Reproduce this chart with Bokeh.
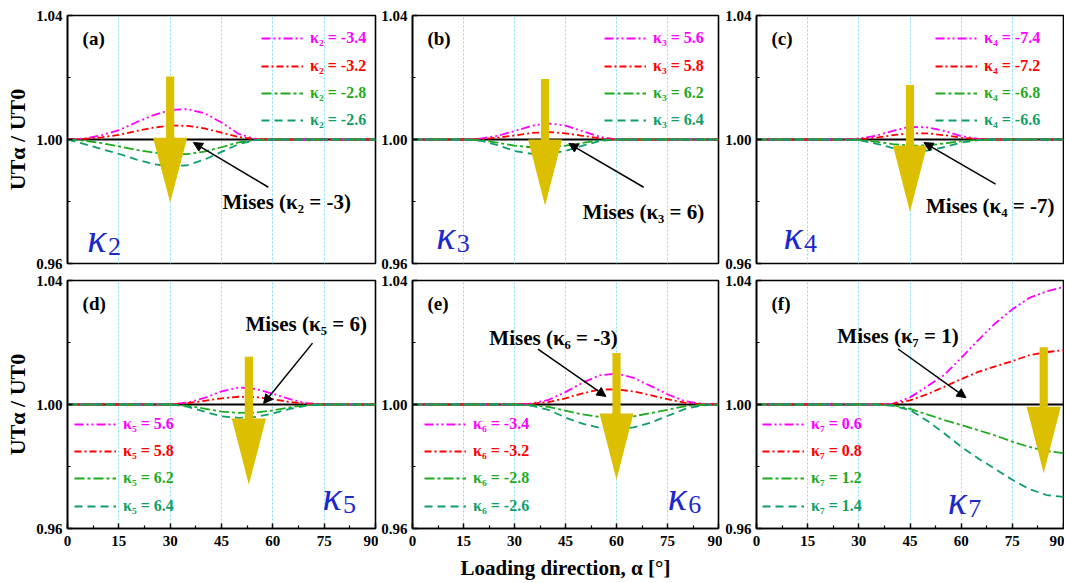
from bokeh.plotting import figure
from bokeh.layouts import column, row
from bokeh.models import (Range1d, FixedTicker, NumeralTickFormatter, Legend, LegendItem,
                          Label, Arrow, NormalHead, PolyAnnotation, Span)
from bokeh.embed import file_html
from bokeh.resources import INLINE

# ---------------- data ----------------
alpha = [0, 5, 10, 15, 20, 25, 30, 35, 40, 45, 50, 55, 60, 65, 70, 75, 80, 85, 90]

# (a) kappa_2
a_mag = [1.0000, 1.0003, 1.0014, 1.0030, 1.0055, 1.0078, 1.0095, 1.0098, 1.0085, 1.0055, 1.0018, 1.0001, 1.0000, 1.0000, 1.0000, 1.0000, 1.0000, 1.0000, 1.0000]
a_red = [1.0000, 1.0002, 1.0007, 1.0015, 1.0027, 1.0038, 1.0045, 1.0044, 1.0036, 1.0022, 1.0008, 1.0001, 1.0000, 1.0000, 1.0000, 1.0000, 1.0000, 1.0000, 1.0000]
a_grn = [1.0000, 0.9996, 0.9988, 0.9978, 0.9967, 0.9958, 0.9953, 0.9953, 0.9961, 0.9975, 0.9991, 0.9999, 1.0000, 1.0000, 1.0000, 1.0000, 1.0000, 1.0000, 1.0000]
a_tea = [1.0000, 0.9985, 0.9969, 0.9954, 0.9936, 0.9921, 0.9913, 0.9917, 0.9935, 0.9960, 0.9985, 0.9998, 1.0000, 1.0000, 1.0000, 1.0000, 1.0000, 1.0000, 1.0000]
# (b) kappa_3
b_mag = [1.0000, 1.0000, 1.0000, 1.0000, 1.0003, 1.0012, 1.0027, 1.0044, 1.0052, 1.0045, 1.0027, 1.0009, 1.0000, 1.0000, 1.0000, 1.0000, 1.0000, 1.0000, 1.0000]
b_red = [1.0000, 1.0000, 1.0000, 1.0000, 1.0001, 1.0006, 1.0013, 1.0021, 1.0024, 1.0020, 1.0012, 1.0004, 1.0000, 1.0000, 1.0000, 1.0000, 1.0000, 1.0000, 1.0000]
b_grn = [1.0000, 1.0000, 1.0000, 1.0000, 0.9998, 0.9990, 0.9980, 0.9975, 0.9975, 0.9980, 0.9989, 0.9997, 1.0000, 1.0000, 1.0000, 1.0000, 1.0000, 1.0000, 1.0000]
b_tea = [1.0000, 1.0000, 1.0000, 1.0000, 0.9996, 0.9982, 0.9963, 0.9954, 0.9954, 0.9963, 0.9980, 0.9995, 1.0000, 1.0000, 1.0000, 1.0000, 1.0000, 1.0000, 1.0000]
# (c) kappa_4
c_mag = [1.0000, 1.0000, 1.0000, 1.0000, 1.0000, 1.0000, 1.0003, 1.0012, 1.0028, 1.0041, 1.0039, 1.0028, 1.0011, 1.0002, 1.0000, 1.0000, 1.0000, 1.0000, 1.0000]
c_red = [1.0000, 1.0000, 1.0000, 1.0000, 1.0000, 1.0000, 1.0001, 1.0006, 1.0014, 1.0020, 1.0020, 1.0014, 1.0006, 1.0001, 1.0000, 1.0000, 1.0000, 1.0000, 1.0000]
c_grn = [1.0000, 1.0000, 1.0000, 1.0000, 1.0000, 1.0000, 0.9999, 0.9993, 0.9985, 0.9980, 0.9981, 0.9987, 0.9995, 0.9999, 1.0000, 1.0000, 1.0000, 1.0000, 1.0000]
c_tea = [1.0000, 1.0000, 1.0000, 1.0000, 1.0000, 1.0000, 0.9998, 0.9987, 0.9972, 0.9963, 0.9964, 0.9975, 0.9990, 0.9998, 1.0000, 1.0000, 1.0000, 1.0000, 1.0000]
# (d) kappa_5
d_mag = [1.0000, 1.0000, 1.0000, 1.0000, 1.0000, 1.0000, 1.0000, 1.0006, 1.0021, 1.0042, 1.0055, 1.0050, 1.0035, 1.0017, 1.0004, 1.0000, 1.0000, 1.0000, 1.0000]
d_red = [1.0000, 1.0000, 1.0000, 1.0000, 1.0000, 1.0000, 1.0000, 1.0004, 1.0012, 1.0020, 1.0025, 1.0024, 1.0017, 1.0008, 1.0002, 1.0000, 1.0000, 1.0000, 1.0000]
d_grn = [1.0000, 1.0000, 1.0000, 1.0000, 1.0000, 1.0000, 1.0000, 0.9996, 0.9987, 0.9977, 0.9973, 0.9974, 0.9981, 0.9991, 0.9998, 1.0000, 1.0000, 1.0000, 1.0000]
d_tea = [1.0000, 1.0000, 1.0000, 1.0000, 1.0000, 1.0000, 1.0000, 0.9993, 0.9977, 0.9962, 0.9957, 0.9960, 0.9971, 0.9986, 0.9997, 1.0000, 1.0000, 1.0000, 1.0000]
# (e) kappa_6
e_mag = [1.0000, 1.0000, 1.0000, 1.0000, 1.0000, 1.0000, 1.0000, 1.0003, 1.0015, 1.0040, 1.0070, 1.0094, 1.0100, 1.0086, 1.0060, 1.0033, 1.0011, 1.0002, 1.0000]
e_red = [1.0000, 1.0000, 1.0000, 1.0000, 1.0000, 1.0000, 1.0000, 1.0002, 1.0008, 1.0020, 1.0036, 1.0048, 1.0049, 1.0042, 1.0030, 1.0017, 1.0006, 1.0001, 1.0000]
e_grn = [1.0000, 1.0000, 1.0000, 1.0000, 1.0000, 1.0000, 1.0000, 0.9998, 0.9992, 0.9980, 0.9968, 0.9960, 0.9956, 0.9962, 0.9972, 0.9983, 0.9994, 0.9999, 1.0000]
e_tea = [1.0000, 1.0000, 1.0000, 1.0000, 1.0000, 1.0000, 1.0000, 0.9996, 0.9983, 0.9958, 0.9938, 0.9925, 0.9919, 0.9926, 0.9941, 0.9963, 0.9985, 0.9997, 1.0000]
# (f) kappa_7
f_mag = [1.0000, 1.0000, 1.0000, 1.0000, 1.0000, 1.0000, 1.0000, 1.0000, 1.0003, 1.0023, 1.0058, 1.0095, 1.0150, 1.0208, 1.0262, 1.0307, 1.0344, 1.0365, 1.0379]
f_red = [1.0000, 1.0000, 1.0000, 1.0000, 1.0000, 1.0000, 1.0000, 1.0000, 1.0002, 1.0013, 1.0033, 1.0057, 1.0082, 1.0105, 1.0123, 1.0140, 1.0159, 1.0169, 1.0175]
f_grn = [1.0000, 1.0000, 1.0000, 1.0000, 1.0000, 1.0000, 1.0000, 1.0000, 0.9998, 0.9986, 0.9968, 0.9950, 0.9934, 0.9917, 0.9900, 0.9880, 0.9863, 0.9850, 0.9843]
f_tea = [1.0000, 1.0000, 1.0000, 1.0000, 1.0000, 1.0000, 1.0000, 1.0000, 0.9996, 0.9982, 0.9948, 0.9907, 0.9864, 0.9826, 0.9792, 0.9757, 0.9727, 0.9708, 0.9702]

panel_tags = ["(a)", "(b)", "(c)", "(d)", "(e)", "(f)"]
kappa_index = ["2", "3", "4", "5", "6", "7"]
kappa_values = [["-3.4", "-3.2", "-2.8", "-2.6"],
                ["5.6", "5.8", "6.2", "6.4"],
                ["-7.4", "-7.2", "-6.8", "-6.6"],
                ["5.6", "5.8", "6.2", "6.4"],
                ["-3.4", "-3.2", "-2.8", "-2.6"],
                ["0.6", "0.8", "1.2", "1.4"]]
mises_values = ["-3", "6", "-7", "6", "-3", "1"]
series = [[a_mag, a_red, a_grn, a_tea], [b_mag, b_red, b_grn, b_tea], [c_mag, c_red, c_grn, c_tea],
          [d_mag, d_red, d_grn, d_tea], [e_mag, e_red, e_grn, e_tea], [f_mag, f_red, f_grn, f_tea]]

x_major = [0, 15, 30, 45, 60, 75, 90]
x_minor = [7.5, 22.5, 37.5, 52.5, 67.5, 82.5]
y_major = [0.96, 1.00, 1.04]
y_minor = [0.98, 1.02]

# ---------------- styles and layout ----------------
FONT = "Liberation Serif"
styles = [("#ff00ff", "9 3 2 3 2 3"), ("#ff0000", "7 3 2 3"),
          ("#1faa1f", "10 3 3 3"), ("#0f9e68", "8 5")]
YELLOW = "#dcc000"
BLUE = "#1c28c8"
GRID = "#7fdcf5"
SUB = {"2": "\u2082", "3": "\u2083", "4": "\u2084", "5": "\u2085", "6": "\u2086", "7": "\u2087"}

COLS = [dict(left=67, frame=308, right=3), dict(left=33, frame=307, right=4), dict(left=33, frame=308, right=1)]
ROWS = [dict(top=15, frame=248, bottom=8), dict(top=9, frame=248, bottom=54)]
LEG_VY = [[215, 187, 160, 133], [94, 67, 40, 12]]

pos = [
    dict(leg_x=194, mtxt=(45.3, 0.9798), marr=(58.7, 0.9846, 36.8, 0.9990), yel=(30.0, 1.0203, 1.0006, 0.9797), kap=(5.8, 0.9680)),
    dict(leg_x=192, mtxt=(50.1, 0.9766), marr=(68.0, 0.9846, 46.0, 0.9987), yel=(39.0, 1.0195, 1.0000, 0.9786), kap=(7.0, 0.9690)),
    dict(leg_x=179, mtxt=(49.7, 0.9786), marr=(70.1, 0.9856, 49.1, 0.9990), yel=(45.0, 1.0176, 0.9981, 0.9766), kap=(7.9, 0.9690)),
    dict(leg_x=7, mtxt=(52.0, 1.0259), marr=(71.6, 1.0198, 57.3, 1.0003), yel=(53.0, 1.0154, 0.9955, 0.9741), kap=(74.5, 0.9702)),
    dict(leg_x=12, mtxt=(22.6, 1.0214), marr=(36.9, 1.0179, 56.9, 1.0026), yel=(60.0, 1.0166, 0.9971, 0.9757), kap=(75.1, 0.9702)),
    dict(leg_x=6, mtxt=(23.7, 1.0221), marr=(41.5, 1.0179, 61.4, 1.0022), yel=(84.2, 1.0185, 0.9993, 0.9778), kap=(56.1, 0.9689)),
]


def make_panel(i):
    ri, ci = divmod(i, 3)
    col, rw = COLS[ci], ROWS[ri]
    p = figure(width=col["left"] + col["frame"] + col["right"],
               height=rw["top"] + rw["frame"] + rw["bottom"],
               x_range=Range1d(0, 90), y_range=Range1d(0.96, 1.04),
               title=None, toolbar_location=None, output_backend="svg",
               min_border_left=col["left"], min_border_right=col["right"],
               min_border_top=rw["top"], min_border_bottom=rw["bottom"])
    p.outline_line_color = "black"
    p.outline_line_width = 1.6
    p.outline_line_alpha = 1.0
    p.background_fill_color = "white"
    p.border_fill_color = "white"

    xa, ya = p.xaxis[0], p.yaxis[0]
    xa.ticker = FixedTicker(ticks=x_major, minor_ticks=x_minor)
    ya.ticker = FixedTicker(ticks=y_major, minor_ticks=y_minor)
    ya.formatter = NumeralTickFormatter(format="0.00")
    for ax in (xa, ya):
        ax.major_tick_in = 5
        ax.major_tick_out = 0
        ax.minor_tick_in = 3
        ax.minor_tick_out = 0
        ax.axis_line_width = 1.6
        ax.axis_line_color = "black"
        ax.major_tick_line_width = 1.5
        ax.minor_tick_line_width = 1.2
        ax.major_tick_line_color = "black"
        ax.minor_tick_line_color = "black"
        ax.major_label_text_font = FONT
        ax.major_label_text_font_style = "bold"
        ax.major_label_text_font_size = "15px"
        ax.major_label_text_color = "black"
        ax.axis_label_text_color = "black"
    ya.major_label_standoff = 5
    if ri == 0:
        xa.visible = False
    else:
        xa.major_label_standoff = 7
    if ri == 1 and ci == 1:
        xa.axis_label = "Loading direction, \u03b1 [\u00b0]"
        xa.axis_label_text_font = FONT
        xa.axis_label_text_font_style = "bold"
        xa.axis_label_text_font_size = "21px"
        xa.axis_label_standoff = 7
    if ci == 0:
        ya.axis_label = "UT\u03b1 / UT0"
        ya.axis_label_text_font = FONT
        ya.axis_label_text_font_style = "bold"
        ya.axis_label_text_font_size = "22px"
        ya.axis_label_standoff = 3

    p.xgrid.ticker = FixedTicker(ticks=[15, 30, 45, 60, 75])
    p.xgrid.grid_line_color = GRID
    p.xgrid.grid_line_dash = "2 2"
    p.xgrid.grid_line_width = 1
    p.ygrid.visible = False

    mises = Span(location=1.0, dimension="width", line_color="black", line_width=2, level="underlay")
    p.add_layout(mises)

    k = kappa_index[i]
    for j, (vals, (color, dash)) in enumerate(zip(series[i], styles)):
        r = p.line(alpha, vals, line_color=color, line_dash=dash, line_width=1.8)
        leg = Legend(items=[LegendItem(label="\u03ba" + SUB[k] + " = " + kappa_values[i][j], renderers=[r])],
                     location=(pos[i]["leg_x"], LEG_VY[ri][j]),
                     padding=0, margin=0, spacing=0, glyph_width=42, glyph_height=20,
                     label_height=20, label_standoff=7,
                     border_line_alpha=0, background_fill_alpha=0,
                     label_text_font=FONT, label_text_font_style="bold",
                     label_text_font_size="16px", label_text_color=color)
        p.add_layout(leg)

    # yellow trend arrow
    c, top, base, tip = pos[i]["yel"]
    sw, hw = 1.2, 5.0
    p.add_layout(PolyAnnotation(xs=[c - sw, c + sw, c + sw, c + hw, c, c - hw, c - sw],
                                ys=[top, top, base, base, tip, base, base],
                                fill_color=YELLOW, fill_alpha=1.0, line_alpha=0))

    # Mises annotation
    x0, y0, x1, y1 = pos[i]["marr"]
    p.add_layout(Arrow(x_start=x0, y_start=y0, x_end=x1, y_end=y1, line_color="black", line_width=1.5,
                       end=NormalHead(size=9, fill_color="black", line_color="black")))
    tx, ty = pos[i]["mtxt"]
    p.add_layout(Label(x=tx, y=ty, text="Mises (\u03ba" + SUB[k] + " = " + mises_values[i] + ")",
                       text_font=FONT, text_font_style="bold", text_font_size="21px",
                       text_color="black", text_baseline="middle", text_align="left"))

    # panel tag
    p.add_layout(Label(x=4.4, y=1.0326, text=panel_tags[i], text_font=FONT, text_font_style="bold",
                       text_font_size="19px", text_color="black", text_baseline="middle"))

    # big kappa symbol
    kx, ky = pos[i]["kap"]
    p.add_layout(Label(x=kx, y=ky, text="\u03ba", text_font=FONT, text_font_style="italic",
                       text_font_size="40px", text_color=BLUE, text_baseline="alphabetic"))
    p.add_layout(Label(x=kx + 6.0, y=ky - 0.0026, text=k, text_font=FONT, text_font_style="normal",
                       text_font_size="26px", text_color=BLUE, text_baseline="alphabetic"))
    return p


figs = [make_panel(i) for i in range(6)]
layout = column(row(*figs[:3]), row(*figs[3:]))
open("out.html", "w").write(file_html(layout, INLINE))
